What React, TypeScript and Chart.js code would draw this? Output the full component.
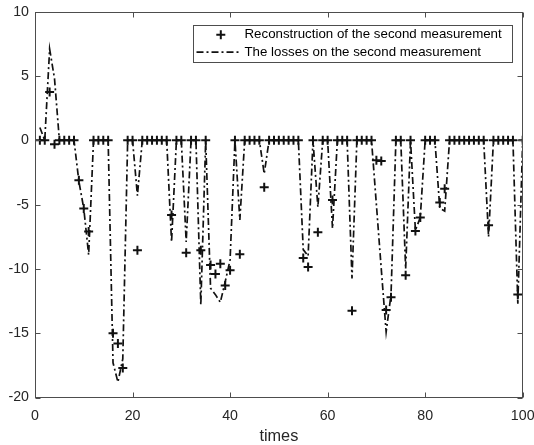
import React, { useEffect, useRef } from 'react';
import { Chart, registerables } from 'chart.js';

Chart.register(...registerables);

const times = [
  1, 2, 3, 4, 5, 6, 7, 8, 9, 10,
  11, 12, 13, 14, 15, 16, 17, 18, 19, 20,
  21, 22, 23, 24, 25, 26, 27, 28, 29, 30,
  31, 32, 33, 34, 35, 36, 37, 38, 39, 40,
  41, 42, 43, 44, 45, 46, 47, 48, 49, 50,
  51, 52, 53, 54, 55, 56, 57, 58, 59, 60,
  61, 62, 63, 64, 65, 66, 67, 68, 69, 70,
  71, 72, 73, 74, 75, 76, 77, 78, 79, 80,
  81, 82, 83, 84, 85, 86, 87, 88, 89, 90,
  91, 92, 93, 94, 95, 96, 97, 98, 99, 100,
];

const reconstruction = [
  0, 0, 3.75, -0.3, 0, 0, 0, 0, -3.1, -5.3,
  -7.1, 0, 0, 0, 0, -15.0, -15.8, -17.7, 0, 0,
  -8.55, 0, 0, 0, 0, 0, 0, -5.8, 0, 0,
  -8.75, 0, 0, -8.55, 0, -9.7, -10.4, -9.6, -11.3, -10.1,
  0, -8.86, 0, 0, 0, 0, -3.66, 0, 0, 0,
  0, 0, 0, 0, -9.15, -9.85, 0, -7.15, 0, 0,
  -4.65, 0, 0, 0, -13.25, 0, 0, 0, 0, -1.55,
  -1.6, -13.2, -12.2, 0, 0, -10.5, 0, -7.05, -6.0, 0,
  0, 0, -4.84, -3.76, 0, 0, 0, 0, 0, 0,
  0, 0, -6.6, 0, 0, 0, 0, 0, -12.0, 0,
];

const losses = [
  1.0, 0, 7.1, 4.8, 0, 0, 0, 0, -3.2, -5.3,
  -8.9, 0, 0, 0, 0, -17.3, -18.8, -17.0, 0, 0,
  -4.3, 0, 0, 0, 0, 0, 0, -7.9, 0, 0,
  -7.9, 0, 0, -12.8, 0, -11.5, -12.0, -12.6, -11.0, -9.3,
  0, -6.2, 0, 0, 0, 0, -2.6, 0, 0, 0,
  0, 0, 0, 0, -8.5, -9.0, 0, -5.2, 0, 0,
  -6.85, 0, 0, 0, -10.75, 0, 0, 0, 0, -5.0,
  -10.0, -14.9, -12.0, 0, 0, -10.0, 0, -7.0, -6.0, 0,
  0, 0, -5.3, -5.5, 0, 0, 0, 0, 0, 0,
  0, 0, -7.5, 0, 0, 0, 0, 0, -12.7, 0,
];

const xTicks = [0, 20, 40, 60, 80, 100];
const yTicks = [-20, -15, -10, -5, 0, 5, 10];
const legendLabels = [
  'Reconstruction of the second measurement',
  'The losses on the second measurement',
];
const xTitle = 'times';

const FONT = '"Liberation Sans", Arial, Helvetica, sans-serif';
const INK = '#111111';
const AXIS = '#4d4d4d';
const TEXT = '#262626';
const DASH = [7, 3, 2, 3];

const boxPlugin = {
  id: 'boxAndTicks',
  afterDatasetsDraw(chart: any) {
    const { ctx, chartArea: ca, scales } = chart;
    ctx.save();
    ctx.strokeStyle = AXIS;
    ctx.lineWidth = 1;
    ctx.setLineDash([]);
    const L = Math.round(ca.left) + 0.5;
    const R = Math.round(ca.right) - 0.5;
    const T = Math.round(ca.top) + 0.5;
    const B = Math.round(ca.bottom) - 0.5;
    ctx.strokeRect(L, T, R - L, B - T);
    const tl = 5;
    ctx.beginPath();
    for (const v of xTicks) {
      const px = Math.round(scales.x.getPixelForValue(v)) + 0.5;
      ctx.moveTo(px, B);
      ctx.lineTo(px, B - tl);
      ctx.moveTo(px, T);
      ctx.lineTo(px, T + tl);
    }
    for (const v of yTicks) {
      const py = Math.round(scales.y.getPixelForValue(v)) + 0.5;
      ctx.moveTo(L, py);
      ctx.lineTo(L + tl, py);
      ctx.moveTo(R, py);
      ctx.lineTo(R - tl, py);
    }
    ctx.stroke();
    ctx.restore();
  },
  afterDraw(chart: any) {
    const { ctx, chartArea: ca } = chart;
    ctx.save();
    const w = 319;
    const h = 37;
    const right = Math.round(ca.right - 11) + 0.5;
    const left = right - w;
    const top = Math.round(ca.top + 13) + 0.5;
    ctx.fillStyle = '#ffffff';
    ctx.fillRect(left, top, w, h);
    ctx.strokeStyle = AXIS;
    ctx.lineWidth = 1;
    ctx.setLineDash([]);
    ctx.strokeRect(left, top, w, h);
    const y1 = top + 9.3;
    const y2 = top + 26.6;
    const cx = left + 27.3;
    ctx.strokeStyle = INK;
    ctx.lineWidth = 2;
    ctx.beginPath();
    ctx.moveTo(cx - 4.5, y1);
    ctx.lineTo(cx + 4.5, y1);
    ctx.moveTo(cx, y1 - 4.5);
    ctx.lineTo(cx, y1 + 4.5);
    ctx.stroke();
    ctx.lineWidth = 1.7;
    ctx.setLineDash(DASH);
    ctx.beginPath();
    ctx.moveTo(left + 3, y2);
    ctx.lineTo(left + 47.5, y2);
    ctx.stroke();
    ctx.setLineDash([]);
    ctx.fillStyle = '#000000';
    ctx.font = `13.3px ${FONT}`;
    ctx.textBaseline = 'middle';
    ctx.textAlign = 'left';
    ctx.fillText(chart.data.datasets[0].label, left + 51, y1);
    ctx.fillText(chart.data.datasets[1].label, left + 51, y2);
    ctx.restore();
  },
};

export default function App() {
  const ref = useRef<HTMLCanvasElement | null>(null);

  useEffect(() => {
    if (!ref.current) return;
    const chart = new Chart(ref.current, {
      type: 'line',
      data: {
        datasets: [
          {
            label: legendLabels[0],
            data: times.map((t, i) => ({ x: t, y: reconstruction[i] })),
            showLine: false,
            pointStyle: 'cross',
            pointRadius: 4.5,
            pointBorderWidth: 2,
            pointBorderColor: INK,
            borderColor: INK,
            backgroundColor: INK,
          },
          {
            label: legendLabels[1],
            data: times.map((t, i) => ({ x: t, y: losses[i] })),
            borderColor: INK,
            borderWidth: 1.7,
            borderDash: DASH,
            pointRadius: 0,
            tension: 0,
            fill: false,
          },
        ],
      },
      options: {
        animation: false,
        responsive: false,
        devicePixelRatio: 1,
        layout: { padding: { top: 11.7, right: 11.3, left: 0, bottom: 0 } },
        plugins: {
          legend: { display: false },
          tooltip: { enabled: false },
        },
        scales: {
          x: {
            type: 'linear',
            min: 0,
            max: 100,
            afterBuildTicks: (s: any) => {
              s.ticks = xTicks.map((v) => ({ value: v }));
            },
            afterFit: (s: any) => {
              s.height = 47.5;
              s.paddingLeft = 0;
              s.paddingRight = 0;
            },
            grid: { display: false, drawTicks: false },
            border: { display: false },
            ticks: {
              padding: 10,
              color: TEXT,
              maxRotation: 0,
              autoSkip: false,
              font: { family: FONT, size: 14.2 },
            },
            title: {
              display: true,
              text: xTitle,
              color: TEXT,
              padding: { top: 0, bottom: 0 },
              font: { family: FONT, size: 16.3, lineHeight: 1 },
            },
          },
          y: {
            type: 'linear',
            min: -20,
            max: 10,
            afterBuildTicks: (s: any) => {
              s.ticks = yTicks.map((v) => ({ value: v }));
            },
            afterFit: (s: any) => {
              s.width = 35;
              s.paddingTop = 0;
              s.paddingBottom = 0;
            },
            grid: { display: false, drawTicks: false },
            border: { display: false },
            ticks: {
              padding: 6,
              color: TEXT,
              autoSkip: false,
              font: { family: FONT, size: 14.2 },
            },
          },
        },
      },
      plugins: [boxPlugin],
    } as any);
    return () => chart.destroy();
  }, []);

  return (
    <div style={{ position: 'absolute', left: 0, top: 0, width: 534, height: 445, background: '#fff' }}>
      <canvas ref={ref} width={534} height={445} style={{ display: 'block' }} />
    </div>
  );
}
